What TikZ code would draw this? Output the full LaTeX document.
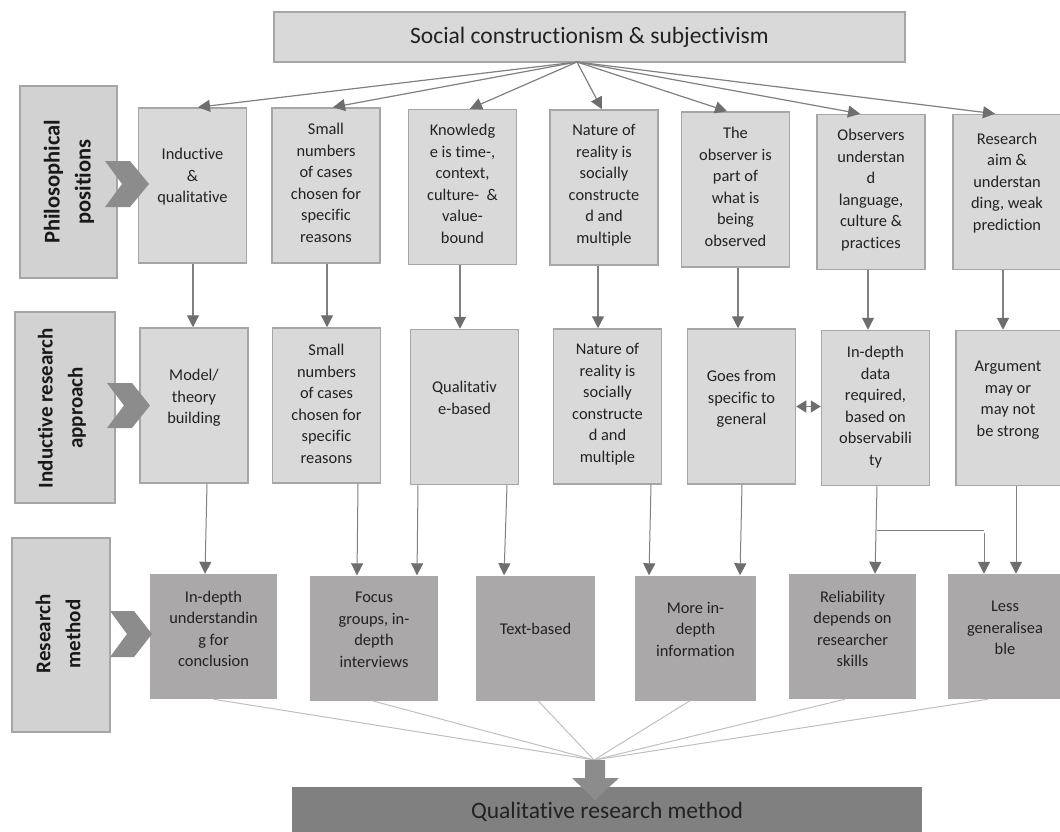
\documentclass[tikz,border=0pt]{standalone}
\usepackage{fontspec}
\setmainfont{Carlito}[Ligatures={NoCommon}]
\usetikzlibrary{arrows.meta,calc}
\definecolor{boxfill}{HTML}{D9D9D9}
\definecolor{boxline}{HTML}{A6A6A6}
\definecolor{labfill}{HTML}{D2D2D2}
\definecolor{methfill}{HTML}{AAA8A8}
\definecolor{darkfill}{HTML}{808080}
\definecolor{chev}{HTML}{8C8C8C}
\definecolor{arrline}{HTML}{808080}
\definecolor{arrhead}{HTML}{6E6E6E}
\definecolor{fanline}{HTML}{BFBFBF}
\definecolor{ink}{HTML}{222222}

\begin{document}
\begin{tikzpicture}[x=1pt,y=-1pt,
  posbox/.style={draw=boxline, line width=1.5pt, fill=boxfill,
    minimum width=108pt, minimum height=155pt, inner sep=0pt},
  methbox/.style={fill=methfill, minimum height=125pt, inner sep=0pt},
  labbox/.style={draw=boxline, line width=1.5pt, fill=labfill, inner sep=0pt},
  txt/.style={align=center, text=ink, inner sep=0pt,
    font=\fontsize{16.4}{21.5}\selectfont},
  labtxt/.style={align=center, text=black!90, inner sep=0pt, rotate=90,
    font=\fontsize{21}{30}\selectfont\bfseries},
  bigtxt/.style={text=ink, inner sep=0pt, font=\fontsize{23.5}{28}\selectfont},
  arr/.style={draw=arrline, line width=1.2pt,
    -{Triangle[length=12pt,width=12pt,color=arrhead]}},
  darr/.style={draw=arrline, line width=1.2pt,
    {Triangle[length=10pt,width=12pt,color=arrhead]}-{Triangle[length=10pt,width=12pt,color=arrhead]}},
  link/.style={draw=arrline, line width=1pt},
  fan/.style={draw=fanline, line width=1pt},
  chevron/.style={fill=chev, draw=none}
]
\useasboundingbox (0,0) rectangle (1060,832);

% ---- top and bottom banners
\node[labbox, fill=boxfill, minimum width=631pt, minimum height=50pt] (top) at (589.5,37) {};
\node[bigtxt] (toptxt) at (589.5,37) {Social constructionism \& subjectivism};
\coordinate (src) at (577,62);

% ---- row labels
\node[labbox, minimum width=97pt, minimum height=192pt] (l1) at (68.5,182) {};
\node[labtxt, font=\fontsize{22.5}{31}\selectfont\bfseries] (l1t) at (69,182) {Philosophical\\positions};
\node[labbox, minimum width=100pt, minimum height=191pt] (l2) at (65,407.5) {};
\node[labtxt] (l2t) at (62,408) {Inductive research\\approach};
\node[labbox, minimum width=98pt, minimum height=194pt] (l3) at (61,635) {};
\node[labtxt] (l3t) at (58,634) {Research\\method};

% ---- philosophical positions
\node[posbox] (b1) at (192.5,185.5) {};
\node[posbox] (b2) at (326,185.5) {};
\node[posbox] (b3) at (462.5,187) {};
\node[posbox] (b4) at (604,187.5) {};
\node[posbox] (b5) at (735.5,189.5) {};
\node[posbox] (b6) at (871,192) {};
\node[posbox] (b7) at (1007,192) {};
\node[txt] (t1) at (192.5,177) {Inductive\\\&\\qualitative};
\node[txt] (t2) at (326,183) {Small\\numbers\\of cases\\chosen for\\specific\\reasons};
\node[txt] (t3) at (462.5,184) {Knowledg\\e is time-,\\context,\\culture-\ \ \&\\value-\\bound};
\node[txt] (t4) at (604,185) {Nature of\\reality is\\socially\\constructe\\d and\\multiple};
\node[txt] (t5) at (735.5,187) {The\\observer is\\part of\\what is\\being\\observed};
\node[txt] (t6) at (871,190) {Observers\\understan\\d\\language,\\culture \&\\practices};
\node[txt] (t7) at (1007,183) {Research\\aim \&\\understan\\ding, weak\\prediction};

% ---- inductive research approach
\node[posbox] (c1) at (194,405.5) {};
\node[posbox] (c2) at (326.5,405.5) {};
\node[posbox] (c3) at (464.5,407) {};
\node[posbox] (c4) at (607.5,406.5) {};
\node[posbox] (c5) at (741.5,406.5) {};
\node[posbox] (c6) at (875.5,408) {};
\node[posbox] (c7) at (1010,408) {};
\node[txt] (u1) at (194,398) {Model/\\theory\\building};
\node[txt] (u2) at (326.5,404) {Small\\numbers\\of cases\\chosen for\\specific\\reasons};
\node[txt] (u3) at (464.5,398) {Qualitativ\\e-based};
\node[txt] (u4) at (607.5,404) {Nature of\\reality is\\socially\\constructe\\d and\\multiple};
\node[txt] (u5) at (741.5,399) {Goes from\\specific to\\general};
\node[txt] (u6) at (875.5,407) {In-depth\\data\\required,\\based on\\observabili\\ty};
\node[txt] (u7) at (1008,400) {Argument\\may or\\may not\\be strong};

% ---- research method
\node[methbox, minimum width=127pt] (d1) at (213.5,636.5) {};
\node[methbox, minimum width=128pt] (d2) at (374,638) {};
\node[methbox, minimum width=119pt] (d3) at (535.5,638) {};
\node[methbox, minimum width=121pt] (d4) at (695.5,638) {};
\node[methbox, minimum width=127pt] (d5) at (852.5,636.5) {};
\node[methbox, minimum width=114pt] (d6) at (1005,636.5) {};
\node[txt] (v1) at (213.5,629) {In-depth\\understandin\\g for\\conclusion};
\node[txt] (v2) at (374,630) {Focus\\groups, in-\\depth\\interviews};
\node[txt] (v3) at (535.5,629) {Text-based};
\node[txt] (v4) at (695.5,629) {More in-\\depth\\information};
\node[txt] (v5) at (852.5,629) {Reliability\\depends on\\researcher\\skills};
\node[txt] (v6) at (1005,628) {Less\\generalisea\\ble};

\node[fill=darkfill, minimum width=630pt, minimum height=50pt, inner sep=0pt] (bot) at (607,812) {};
\node[bigtxt] (bottxt) at (607,812) {Qualitative research method};

% ---- fan from the banner to the positions
\draw[arr] (src) -- ([xshift=5.5pt]b1.north);
\draw[arr] (src) -- ([xshift=7pt]b2.north);
\draw[arr] (src) -- ([xshift=7.5pt]b3.north);
\draw[arr] (src) -- ([xshift=-2pt]b4.north);
\draw[arr] (src) -- ([xshift=-8.5pt]b5.north);
\draw[arr] (src) -- ([xshift=-11pt]b6.north);
\draw[arr] (src) -- ([xshift=-12pt]b7.north);

% ---- positions to approach
\draw[arr] ([xshift=0.5pt]b1.south) -- ([xshift=0.5pt]b1.south |- c1.north);
\draw[arr] ([xshift=1pt]b2.south) -- ([xshift=1pt]b2.south |- c2.north);
\draw[arr] ([xshift=-2.5pt]b3.south) -- ([xshift=-2.5pt]b3.south |- c3.north);
\draw[arr] ([xshift=-6pt]b4.south) -- ([xshift=-6pt]b4.south |- c4.north);
\draw[arr] ([xshift=2.5pt]b5.south) -- ([xshift=2.5pt]b5.south |- c5.north);
\draw[arr] ([xshift=-3pt]b6.south) -- ([xshift=-3pt]b6.south |- c6.north);
\draw[arr] ([xshift=-4pt]b7.south) -- ([xshift=-4pt]b7.south |- c7.north);

\draw[darr] (c5.east) -- (c5.east -| c6.west);

% ---- approach to method
\draw[arr, line width=1pt] ([xshift=13pt]c1.south) -- ([xshift=-8.5pt]d1.north);
\draw[arr, line width=1pt] ([xshift=31.5pt]c2.south) -- ([xshift=-17pt]d2.north);
\draw[arr, line width=1pt] ([xshift=-46.5pt]c3.south) -- ([xshift=43pt]d2.north);
\draw[arr, line width=1pt] ([xshift=42.5pt]c3.south) -- ([xshift=-31.5pt]d3.north);
\draw[arr, line width=1pt] ([xshift=43.5pt]c4.south) -- ([xshift=-46.5pt]d4.north);
\draw[arr, line width=1pt] ([xshift=0.5pt]c5.south) -- ([xshift=44.5pt]d4.north);
\draw[arr, line width=1pt] ([xshift=1.5pt]c6.south) -- ([xshift=22.5pt]d5.north);
\coordinate (split) at ([xshift=1.5pt]c6.south |- 0,530);
\coordinate (turn) at ([xshift=-21pt]d6.north |- 0,530);
\draw[link] (split) -- (turn);
\draw[arr, line width=1pt] ([yshift=-3pt]turn) -- ([xshift=-21pt]d6.north);
\draw[arr, line width=1pt] ([xshift=6pt]c7.south) -- ([xshift=11pt]d6.north);

% ---- method boxes converge on the result
\coordinate (join) at (594,760);
\draw[fan] (d1.south) -- (join);
\draw[fan] ([xshift=-2pt]d2.south) -- (join);
\draw[fan] ([xshift=2.5pt]d3.south) -- (join);
\draw[fan] ([xshift=-5.5pt]d4.south) -- (join);
\draw[fan] ([xshift=-7.5pt]d5.south) -- (join);
\draw[fan] ([xshift=-17pt]d6.south) -- (join);

% ---- block arrow into the result
\fill[chev] (585,760) -- (605,760) -- (605,778) -- (619,778) -- (595,800)
  -- (572,778) -- (585,778) -- cycle;

% ---- chevrons beside the row labels
\fill[chevron] (105,161) -- (130,161) -- (149,184) -- (130,207) -- (105,207) -- (122,184) -- cycle;
\fill[chevron] (107,383) -- (132,383) -- (150,405.5) -- (132,428) -- (107,428) -- (124,405.5) -- cycle;
\fill[chevron] (110,611) -- (134,611) -- (152,634) -- (134,657) -- (110,657) -- (127,634) -- cycle;
\end{tikzpicture}
\end{document}
